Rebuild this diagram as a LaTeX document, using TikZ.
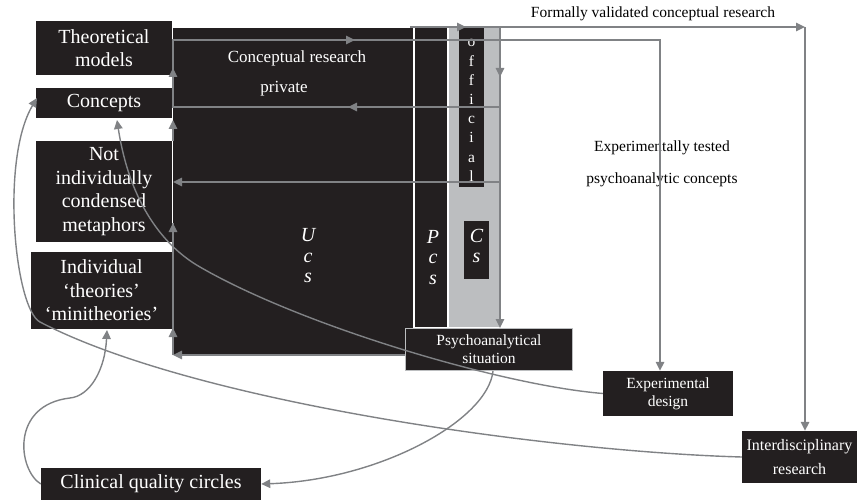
\documentclass[tikz,border=0pt]{standalone}
\usepackage{fontspec}
\setmainfont{Liberation Serif}
\usetikzlibrary{arrows.meta}
\definecolor{ink}{HTML}{231F20}
\definecolor{colgrey}{HTML}{BCBEC0}
\definecolor{arrgrey}{HTML}{808285}
\begin{document}
\begin{tikzpicture}[x=1pt,y=-1pt,
  blk/.style={fill=ink,text=white,inner sep=0pt,align=center},
  ln/.style={draw=arrgrey,line width=1.6pt},
  tipped/.style={ln,-{Triangle[length=9pt,width=8.5pt]}},
  curv/.style={draw=arrgrey,line width=1.4pt,-{Triangle[length=9pt,width=8.5pt]}},
  big/.style={font=\fontsize{20}{23.6}\selectfont},
  mid/.style={font=\fontsize{15.5}{18}\selectfont},
  wt/.style={text=white,inner sep=0pt},
  plain/.style={text=black,inner sep=0pt,font=\fontsize{15.5}{18}\selectfont},
]
\useasboundingbox (0,0) rectangle (857,500);

% columns
\node[blk,minimum width=240pt,minimum height=327pt] (ucs) at (293,191.5) {};
\node[blk,minimum width=31.5pt,minimum height=299pt] (pcs) at (430.75,177.5) {};
\node[fill=colgrey,inner sep=0pt,minimum width=51.5pt,minimum height=299pt] (cs) at (474.25,177.5) {};
\node[blk,minimum width=25pt,minimum height=159pt] (offic) at (471.5,107.5) {};
\node[blk,minimum width=25pt,minimum height=58pt] (csbox) at (476.5,250) {};

% left boxes
\node[blk,big,minimum width=136pt,minimum height=54pt] (theo) at (104,48) {Theoretical\\models};
\node[blk,big,minimum width=136pt,minimum height=30pt] (conc) at (104,103) {Concepts};
\node[blk,big,minimum width=136pt,minimum height=101pt] (notind) at (104,191.5) {Not\\individually\\condensed\\metaphors};
\node[blk,big,minimum width=141pt,minimum height=77pt] (indiv) at (101.5,290.5) {Individual\\‘theories’\\‘minitheories’};
\node[blk,big,minimum width=220pt,minimum height=32pt] (clin) at (151,484) {Clinical quality circles};

% right boxes
\node[blk,mid,draw=colgrey,line width=1pt,minimum width=167pt,minimum height=42pt] (psych) at (489,349.5) {Psychoanalytical\\situation};
\node[blk,mid,minimum width=130pt,minimum height=45pt] (expd) at (668,393.5) {Experimental\\design};
\node[blk,font=\fontsize{16}{24}\selectfont,minimum width=115pt,minimum height=52pt] (inter) at (799.5,457) {Interdisciplinary\\research};

% texts
\node[wt,font=\fontsize{17}{20}\selectfont] (t1) at (297,58) {Conceptual research};
\node[wt,font=\fontsize{17}{20}\selectfont] (t2) at (284,89) {private};
\node[wt,align=center,font=\fontsize{20}{20.5}\selectfont\itshape] (tu) at (308,256) {U\\c\\s};
\node[wt,align=center,font=\fontsize{20}{20.5}\selectfont\itshape] (tp) at (433,257.5) {P\\c\\s};
\node[wt,align=center,font=\fontsize{20}{20}\selectfont\itshape] (tc) at (476.5,246) {C\\s};
\begin{scope}[every node/.style={wt,anchor=base,font=\fontsize{15.5}{18}\selectfont}]
\node (o1) at (471.5,47) {o};
\node (o2) at (471.5,66.2) {f};
\node (o3) at (471.5,85.4) {f};
\node (o4) at (471.5,104.6) {i};
\node (o5) at (471.5,123.8) {c};
\node (o6) at (471.5,143) {i};
\node (o7) at (471.5,162.2) {a};
\node (o8) at (471.5,181.4) {l};
\end{scope}
\node[plain] (t3) at (653,14) {Formally validated conceptual research};
\node[plain] (t4) at (662,148) {Experimentally tested};
\node[plain] (t5) at (662,180) {psychoanalytic concepts};

% connectors
\coordinate (pA) at (500,107);
\coordinate (pB) at (173,107);
\coordinate (pC) at (173,40);
\coordinate (pD) at (660,40);
\draw[tipped] (pA) -- (pB) -- (pC) -- (pD) -- (pD |- expd.north);
\draw[tipped] (360,107) -- (348,107);
\draw[tipped] (173,80) -- (173,68);
\draw[tipped] (343,40) -- (355,40);

\coordinate (qA) at (410,27);
\coordinate (qB) at (805,27);
\draw[tipped] (qA) -- (qB);
\draw[tipped] (qB) -- (qB |- inter.north);
\draw[tipped] (454,27) -- (466,27);

\coordinate (rA) at (500,27);
\draw[tipped] (rA) -- (rA |- psych.north);
\draw[tipped] (500,65) -- (500,77);

\coordinate (uA) at (500,182);
\coordinate (uB) at (173,182);
\draw[tipped] (uA) -- (uB);

\coordinate (sA) at (405,355);
\coordinate (sB) at (173,355);
\coordinate (sC) at (173,223);
\draw[ln] (sB) -- (sC);
\draw[tipped] (sA) -- (sB);
\draw[tipped] (173,340) -- (173,328);
\draw[tipped] (173,235) -- (sC);

\coordinate (vA) at (173,141);
\coordinate (vB) at (173,120);
\draw[tipped] (vA) -- (vB);

% curves
\coordinate (cA) at (200,267);
\coordinate (cAe) at (117,120);
\draw[curv] (expd.west) .. controls (500,385) and (300,325) .. (cA)
   .. controls (165,247) and (130,205) .. (cAe);
\coordinate (cB) at (40,322);
\coordinate (cBe) at (37,98);
\draw[curv] (inter.west) .. controls (560,452) and (200,405) .. (cB)
   .. controls (15,309) and (0,160) .. (cBe);
\coordinate (cCs) at (493,371);
\draw[curv] (cCs) .. controls (488,420) and (380,480) .. (clin.east);
\coordinate (cD) at (70,398);
\coordinate (cDe) at (107,330);
\draw[curv] (clin.west) .. controls (18,470) and (10,405) .. (cD)
   .. controls (90,396) and (105,370) .. (cDe);
\end{tikzpicture}
\end{document}
